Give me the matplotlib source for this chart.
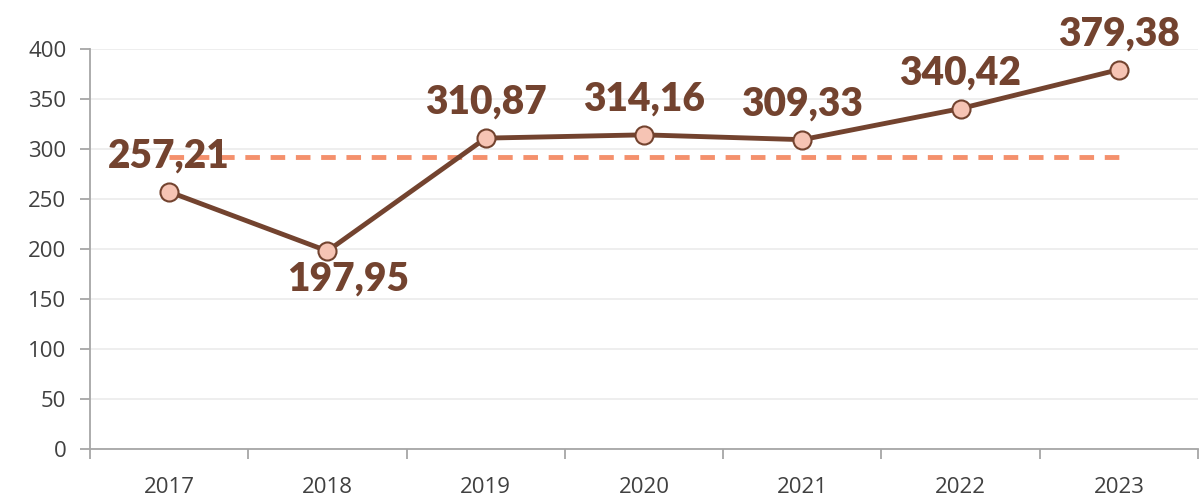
import numpy as np
import matplotlib.pyplot as plt
from matplotlib.ticker import FixedLocator

# data
years = ['2017', '2018', '2019', '2020', '2021', '2022', '2023']
values = [257.21, 197.95, 310.87, 314.16, 309.33, 340.42, 379.38]
average = 292
labels = ['257,21', '197,95', '310,87', '314,16', '309,33', '340,42', '379,38']
label_above = [True, False, True, True, True, True, True]

line_color = '#73432F'
marker_face = '#F6C4B4'
dash_color = '#F4906C'
tick_color = '#404040'

fig = plt.figure(figsize=(12.04, 5), dpi=100)
ax = fig.add_axes([90 / 1204, 51 / 500, 1108 / 1204, 400 / 500])

x = np.arange(len(years))

ax.plot([x[0], x[-1]], [average, average], color=dash_color, lw=3.5,
        dashes=(3, 2.2), zorder=2)
ax.plot(x, values, color=line_color, lw=3.5, marker='o', markersize=13,
        markerfacecolor=marker_face, markeredgecolor=line_color,
        markeredgewidth=1.5, zorder=3)

for xi, v, lab, up in zip(x, values, labels, label_above):
    off = (0, 36) if up else (21, -28)
    ax.annotate(lab, (xi, v), xytext=off, textcoords='offset pixels',
                ha='center', va='center', fontsize=28, fontweight='heavy',
                family='Lato', color=line_color, zorder=4)

ax.set_xlim(-0.5, len(years) - 0.5)
ax.set_ylim(0, 400)
ax.set_yticks(range(0, 401, 50))
ax.set_xticks(x)
ax.set_xticklabels(years)
ax.xaxis.set_minor_locator(FixedLocator(np.arange(-0.5, len(years), 1)))
ax.tick_params(axis='x', which='major', length=0, pad=20, labelsize=16,
               labelcolor=tick_color)
ax.tick_params(axis='x', which='minor', length=7, color='#A6A6A6', width=1.3)
ax.tick_params(axis='y', length=7, color='#A6A6A6', width=1.3, pad=10,
               labelsize=16, labelcolor=tick_color)
for t in ax.get_xticklabels() + ax.get_yticklabels():
    t.set_family('Open Sans')

ax.grid(axis='y', color='#EDEDED', lw=1.3, zorder=0)
ax.set_axisbelow(True)
for s in ['top', 'right']:
    ax.spines[s].set_visible(False)
for s in ['left', 'bottom']:
    ax.spines[s].set_color('#A6A6A6')
    ax.spines[s].set_linewidth(1.3)

fig.savefig('out.png', dpi=100)
